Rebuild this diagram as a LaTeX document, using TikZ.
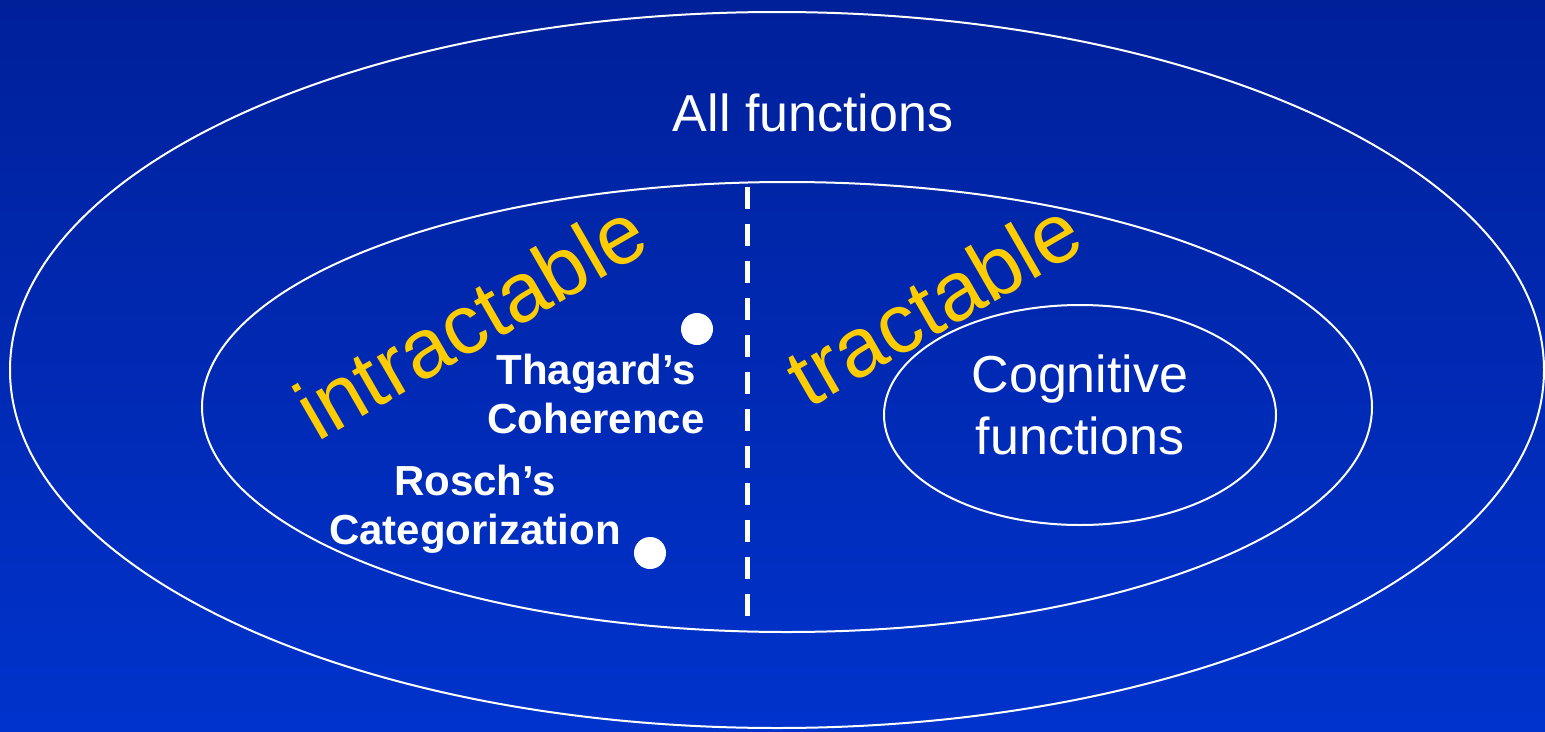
\documentclass[tikz,border=0pt]{standalone}
\usepackage{fontspec}
\setmainfont{Liberation Sans}
\usetikzlibrary{shapes.geometric}
\definecolor{bgtop}{HTML}{00209A}
\definecolor{bgbottom}{HTML}{0033CC}
\definecolor{labelgold}{HTML}{FFCC00}
\tikzset{
  setring/.style={ellipse, draw=white, line width=2pt, inner sep=0pt},
  bigtext/.style={text=white, font=\fontsize{52}{62}\selectfont, align=center, inner sep=0pt},
  boldtext/.style={text=white, font=\fontsize{42}{49}\selectfont\bfseries, align=center, inner sep=0pt},
  slanted/.style={text=labelgold, font=\fontsize{84}{90}\selectfont, rotate=30, inner sep=0pt},
  member/.style={circle, fill=white, minimum size=32pt, inner sep=0pt},
  divider/.style={white, line width=5pt, dash pattern=on 22pt off 15pt}
}
\begin{document}
\begin{tikzpicture}[x=1pt,y=-1pt]
  % background
  \shade[top color=bgtop, bottom color=bgbottom] (0,0) rectangle (1545,731);
  \useasboundingbox (0,0) rectangle (1545,731);

  % nested sets
  \node[setring, minimum width=1534pt, minimum height=716pt] (all) at (777,370) {};
  \node[setring, minimum width=1170pt, minimum height=450pt] (computable) at (787,407) {};
  \node[setring, minimum width=392pt, minimum height=220pt] (cognitive) at (1080,415) {};

  % split between intractable and tractable
  \coordinate (splittop) at (747,187);
  \coordinate (splitbottom) at (747,622);
  \draw[divider] (splittop) -- (splitbottom);

  % labels
  \node[bigtext, anchor=base] (alllabel) at (813,131) {All functions};
  \node[bigtext] (coglabel) at (1080,405) {Cognitive\\functions};
  \node[slanted] (intractable) at (470,320) {intractable};
  \node[slanted] (tractable) at (933,303) {tractable};

  % example functions
  \node[member] (thagarddot) at (697,329) {};
  \node[member] (roschdot) at (650,553) {};
  \node[boldtext] (thagard) at (596,393.5) {Thagard’s\\Coherence};
  \node[boldtext] (rosch) at (475,509.5) {Rosch’s\\Categorization};
\end{tikzpicture}
\end{document}
